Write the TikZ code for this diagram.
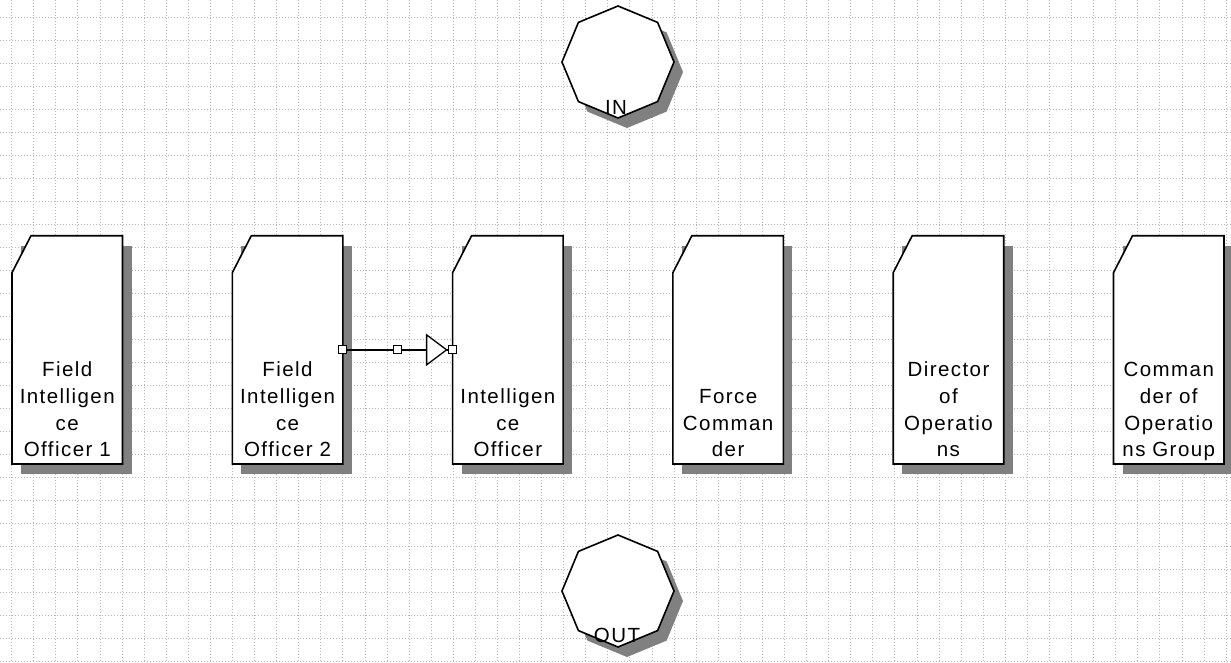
\documentclass[tikz,border=0pt]{standalone}
\usepackage{fontspec}
\setmainfont{Liberation Sans}
\newfontfamily\cardfont[LetterSpace=7]{Liberation Sans}
\usetikzlibrary{shapes.geometric}
\definecolor{gridgray}{RGB}{180,180,180}
\definecolor{shadegray}{RGB}{128,128,128}
\tikzset{
  gridline/.style={gridgray, line width=0.7pt, dash pattern=on 1.2pt off 1.8pt},
  cardbox/.style={rectangle, draw=none, minimum width=110.5pt, minimum height=228.3pt, inner sep=0pt, outer sep=0pt},
  cardline/.style={draw=black, line width=1.6pt, fill=white, line join=miter},
  shade/.style={fill=shadegray},
  cardtext/.style={font=\cardfont\fontsize{20.5}{26.7}\selectfont, text width=110pt, align=center, inner sep=0pt, anchor=base},
  octa/.style={regular polygon, regular polygon sides=8, shape border rotate=22.5, minimum size=112pt, inner sep=0pt, outer sep=0pt},
  octline/.style={octa, draw=black, line width=1.6pt, fill=white},
  octshade/.style={octa, draw=none, fill=shadegray},
  octlabel/.style={font=\cardfont\fontsize{20.5}{24}\selectfont, inner sep=0pt, anchor=base},
  conn/.style={draw=black, line width=1.3pt},
  sqm/.style={rectangle, draw=black, line width=1.2pt, fill=white, minimum size=8pt, inner sep=0pt},
}
\begin{document}
\begin{tikzpicture}[x=1pt, y=-1pt]
\useasboundingbox (0,0) rectangle (1231,663);
\fill[white] (0,0) rectangle (1231,663);
% grid
\foreach \i in {0,...,55} \draw[gridline] ({11.6+22.08*\i},0) -- ({11.6+22.08*\i},663);
\foreach \j in {0,...,28} \draw[gridline] (0,{17+23*\j}) -- (1231,{17+23*\j});

% octagons
\node[octshade] at (627,72) {};
\node[octline] (inoct) at (618,62) {};
\node[octlabel] (inlbl) at (616,115) {IN};
\node[octshade] at (627,601) {};
\node[octline] (outoct) at (618,591) {};
\node[octlabel] (outlbl) at (617,642) {OUT};

% cards
\foreach \k/\n in {0/c1,1/c2,2/c3,3/c4,4/c5,5/c6}{
  \node[cardbox] (\n) at ({12+220.3*\k+55.25},349.85) {};
  \fill[shade] ([shift={(9,10)}]\n.north west) rectangle ([shift={(9,10)}]\n.south east);
  \draw[cardline] ([shift={(19,0)}]\n.north west) -- (\n.north east) -- (\n.south east)
     -- (\n.south west) -- ([shift={(0,37)}]\n.north west) -- cycle;
}
\node[cardtext] (t1) at ([shift={(0,140.9)}]c1.north) {Field\\Intelligen\\ce\\Officer 1};
\node[cardtext] (t2) at ([shift={(0,140.9)}]c2.north) {Field\\Intelligen\\ce\\Officer 2};
\node[cardtext] (t3) at ([shift={(0,167.6)}]c3.north) {Intelligen\\ce\\Officer};
\node[cardtext] (t4) at ([shift={(0,167.6)}]c4.north) {Force\\Comman\\der};
\node[cardtext] (t5) at ([shift={(0,140.9)}]c5.north) {Director\\of\\Operatio\\ns};
\node[cardtext] (t6) at ([shift={(0,140.9)}]c6.north) {Comman\\der of\\Operatio\\ns Group};

% connector
\draw[conn] (c2.east) -- coordinate[pos=0.5] (cm) (c3.west);
\draw[conn, fill=white, line join=miter] ([shift={(-26,-15)}]c3.west) -- ([shift={(-26,15)}]c3.west) -- ([shift={(-6,0)}]c3.west) -- cycle;
\node[sqm] (s1) at (c2.east) {};
\node[sqm] (s2) at (cm) {};
\node[sqm] (s3) at (c3.west) {};
\end{tikzpicture}
\end{document}
